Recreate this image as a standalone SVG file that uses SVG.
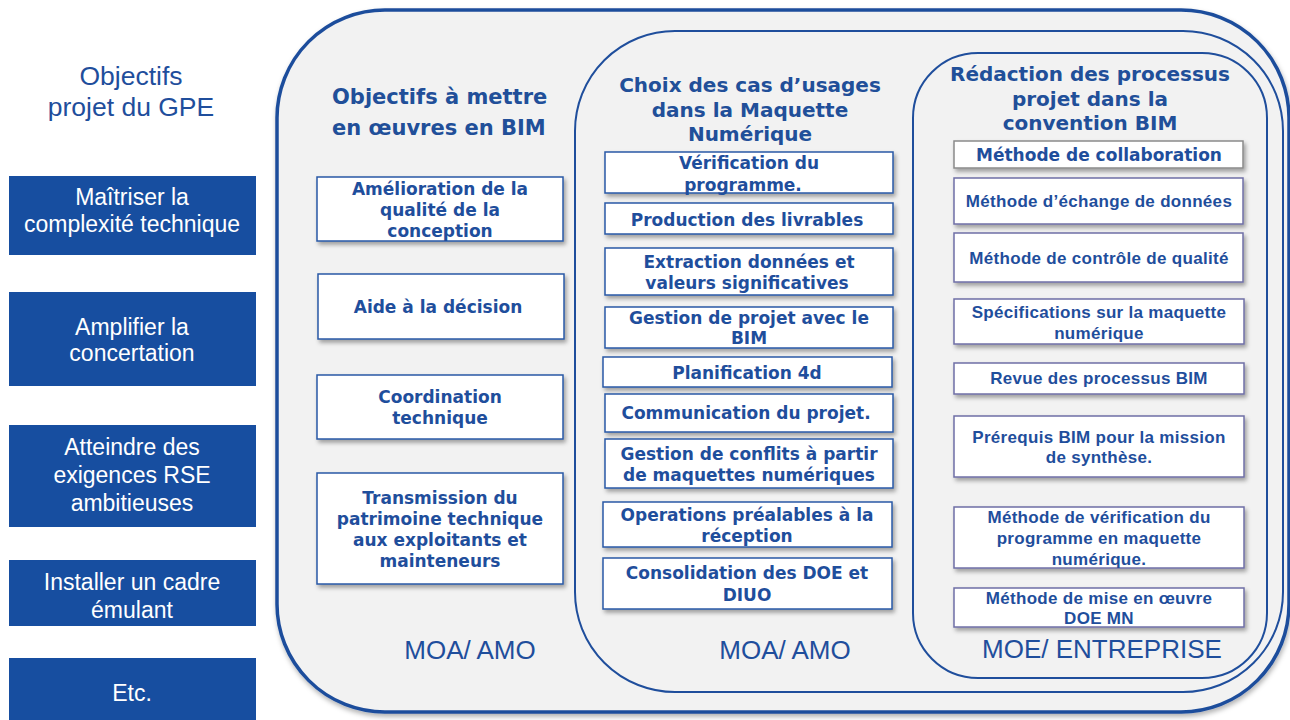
<svg xmlns="http://www.w3.org/2000/svg" width="1290" height="720" viewBox="0 0 1290 720">
<defs>
<filter id="sh" x="-10%" y="-10%" width="130%" height="140%">
<feDropShadow dx="2" dy="3" stdDeviation="2" flood-color="#000" flood-opacity="0.35"/>
</filter>
<filter id="shb" x="-5%" y="-5%" width="110%" height="110%">
<feDropShadow dx="1" dy="3" stdDeviation="2.5" flood-color="#000" flood-opacity="0.3"/>
</filter>
</defs>
<style>
.lbox{fill:#174ea0;}
.ltxt{font-family:"Liberation Sans",Arial,sans-serif;font-size:23px;fill:#ffffff;text-anchor:middle;}
.ttl{font-family:"Liberation Sans",Arial,sans-serif;font-size:26.5px;fill:#1f4e9c;text-anchor:middle;}
.hd{font-family:"DejaVu Sans",Verdana,sans-serif;font-weight:bold;font-size:20px;fill:#214f99;text-anchor:middle;}
.wb{fill:#ffffff;stroke:#2a58a6;stroke-width:1.5;filter:url(#sh);}
.wb3{fill:#ffffff;stroke:#6f6fa6;stroke-width:1.5;filter:url(#sh);}
.wbg{fill:#ffffff;stroke:#8a8a8a;stroke-width:1.5;filter:url(#sh);}
.bt{font-family:"DejaVu Sans",Verdana,sans-serif;font-weight:bold;font-size:17px;fill:#1f4e9c;text-anchor:middle;}
.at{font-family:"Liberation Sans",Arial,sans-serif;font-weight:bold;font-size:17px;letter-spacing:0.3px;fill:#1f4e9c;text-anchor:middle;}
.role{font-family:"Liberation Sans",Arial,sans-serif;font-size:26px;fill:#1f4e9c;text-anchor:middle;}
.frame{fill:#f2f2f2;stroke:#1f4e9c;}
</style>

<!-- frames -->
<g id="frames">
<rect class="frame" x="277" y="10" width="1012" height="702" rx="108" ry="108" stroke-width="3.5" filter="url(#shb)"/>
<rect class="frame" x="575" y="31" width="708" height="661" rx="100" ry="100" stroke-width="2"/>
<rect class="frame" x="913" y="53" width="354" height="625" rx="65" ry="65" stroke-width="2"/>
</g>

<!-- left column -->
<g id="title-gpe">
<text class="ttl" x="131" y="85">Objectifs</text>
<text class="ttl" x="131" y="116">projet du GPE</text>
</g>
<g id="left-1"><rect class="lbox" x="9" y="176" width="247" height="79"/>
<text class="ltxt" x="132" y="205">Maîtriser la</text><text class="ltxt" x="132" y="232">complexité technique</text></g>
<g id="left-2"><rect class="lbox" x="9" y="292" width="247" height="94"/>
<text class="ltxt" x="132" y="335">Amplifier la</text><text class="ltxt" x="132" y="361">concertation</text></g>
<g id="left-3"><rect class="lbox" x="9" y="425" width="247" height="102"/>
<text class="ltxt" x="132" y="455">Atteindre des</text><text class="ltxt" x="132" y="483">exigences RSE</text><text class="ltxt" x="132" y="511">ambitieuses</text></g>
<g id="left-4"><rect class="lbox" x="9" y="560" width="247" height="66"/>
<text class="ltxt" x="132" y="590">Installer un cadre</text><text class="ltxt" x="132" y="618">émulant</text></g>
<g id="left-5"><rect class="lbox" x="9" y="658" width="247" height="62"/>
<text class="ltxt" x="132" y="701">Etc.</text></g>

<!-- column 1 -->
<g id="col1-head">
<text class="hd" x="332" y="104" style="text-anchor:start;font-size:21px">Objectifs à mettre</text>
<text class="hd" x="332" y="135" style="text-anchor:start;font-size:21px">en œuvres en BIM</text>
</g>
<g id="c1-1"><rect class="wb" x="317" y="177" width="246" height="64"/>
<text class="bt" x="440" y="195">Amélioration de la</text><text class="bt" x="440" y="216">qualité de la</text><text class="bt" x="440" y="237">conception</text></g>
<g id="c1-2"><rect class="wb" x="318" y="274" width="246" height="65"/>
<text class="bt" x="438" y="313">Aide à la décision</text></g>
<g id="c1-3"><rect class="wb" x="317" y="375" width="246" height="64"/>
<text class="bt" x="440" y="403">Coordination</text><text class="bt" x="440" y="424">technique</text></g>
<g id="c1-4"><rect class="wb" x="317" y="473" width="246" height="111"/>
<text class="bt" x="440" y="504">Transmission du</text><text class="bt" x="440" y="525">patrimoine technique</text><text class="bt" x="440" y="546">aux exploitants et</text><text class="bt" x="440" y="567">mainteneurs</text></g>
<g id="role-1"><text class="role" x="470" y="659">MOA/ AMO</text></g>

<!-- column 2 -->
<g id="col2-head">
<text class="hd" x="750" y="92">Choix des cas d’usages</text>
<text class="hd" x="750" y="117">dans la Maquette</text>
<text class="hd" x="750" y="141">Numérique</text>
</g>
<g id="c2-1"><rect class="wb" x="605" y="152" width="288" height="41"/>
<text class="bt" x="749" y="169">Vérification du</text><text class="bt" x="743" y="191">programme.</text></g>
<g id="c2-2"><rect class="wb" x="605" y="203" width="288" height="31"/>
<text class="bt" x="747" y="226">Production des livrables</text></g>
<g id="c2-3"><rect class="wb" x="605" y="248" width="288" height="47"/>
<text class="bt" x="749" y="268">Extraction données et</text><text class="bt" x="747" y="289">valeurs significatives</text></g>
<g id="c2-4"><rect class="wb" x="605" y="307" width="288" height="41"/>
<text class="bt" x="749" y="324">Gestion de projet avec le</text><text class="bt" x="749" y="344">BIM</text></g>
<g id="c2-5"><rect class="wb" x="603" y="357" width="289" height="30"/>
<text class="bt" x="747" y="379">Planification 4d</text></g>
<g id="c2-6"><rect class="wb" x="605" y="394" width="288" height="38"/>
<text class="bt" x="746" y="419">Communication du projet.</text></g>
<g id="c2-7"><rect class="wb" x="605" y="439" width="288" height="49"/>
<text class="bt" x="749" y="460">Gestion de conflits à partir</text><text class="bt" x="749" y="481">de maquettes numériques</text></g>
<g id="c2-8"><rect class="wb" x="603" y="502" width="289" height="45"/>
<text class="bt" x="747" y="521">Operations préalables à la</text><text class="bt" x="747" y="542">réception</text></g>
<g id="c2-9"><rect class="wb" x="603" y="558" width="289" height="51"/>
<text class="bt" x="747" y="579">Consolidation des DOE et</text><text class="bt" x="747" y="601">DIUO</text></g>
<g id="role-2"><text class="role" x="785" y="659">MOA/ AMO</text></g>

<!-- column 3 -->
<g id="col3-head">
<text class="hd" x="1090" y="81">Rédaction des processus</text>
<text class="hd" x="1090" y="106">projet dans la</text>
<text class="hd" x="1090" y="130">convention BIM</text>
</g>
<g id="c3-1"><rect class="wbg" x="954" y="141" width="289" height="27"/>
<text class="bt" x="1099" y="161">Méthode de collaboration</text></g>
<g id="c3-2"><rect class="wb3" x="954" y="178" width="289" height="46"/>
<text class="at" x="1099" y="207">Méthode d’échange de données</text></g>
<g id="c3-3"><rect class="wb3" x="954" y="233" width="289" height="49"/>
<text class="at" x="1099" y="264">Méthode de contrôle de qualité</text></g>
<g id="c3-4"><rect class="wb3" x="954" y="299" width="290" height="45"/>
<text class="at" x="1099" y="318">Spécifications sur la maquette</text><text class="at" x="1099" y="339">numérique</text></g>
<g id="c3-5"><rect class="wb3" x="954" y="363" width="290" height="31"/>
<text class="at" x="1099" y="384">Revue des processus BIM</text></g>
<g id="c3-6"><rect class="wb3" x="954" y="416" width="290" height="61"/>
<text class="at" x="1099" y="443">Prérequis BIM pour la mission</text><text class="at" x="1099" y="463">de synthèse.</text></g>
<g id="c3-7"><rect class="wb3" x="954" y="507" width="290" height="61"/>
<text class="at" x="1099" y="523">Méthode de vérification du</text><text class="at" x="1099" y="544">programme en maquette</text><text class="at" x="1099" y="565">numérique.</text></g>
<g id="c3-8"><rect class="wb3" x="954" y="588" width="290" height="39"/>
<text class="at" x="1099" y="604">Méthode de mise en œuvre</text><text class="at" x="1099" y="624">DOE MN</text></g>
<g id="role-3"><text class="role" x="1102" y="658">MOE/ ENTREPRISE</text></g>

<g id="connectors"></g>
</svg>
